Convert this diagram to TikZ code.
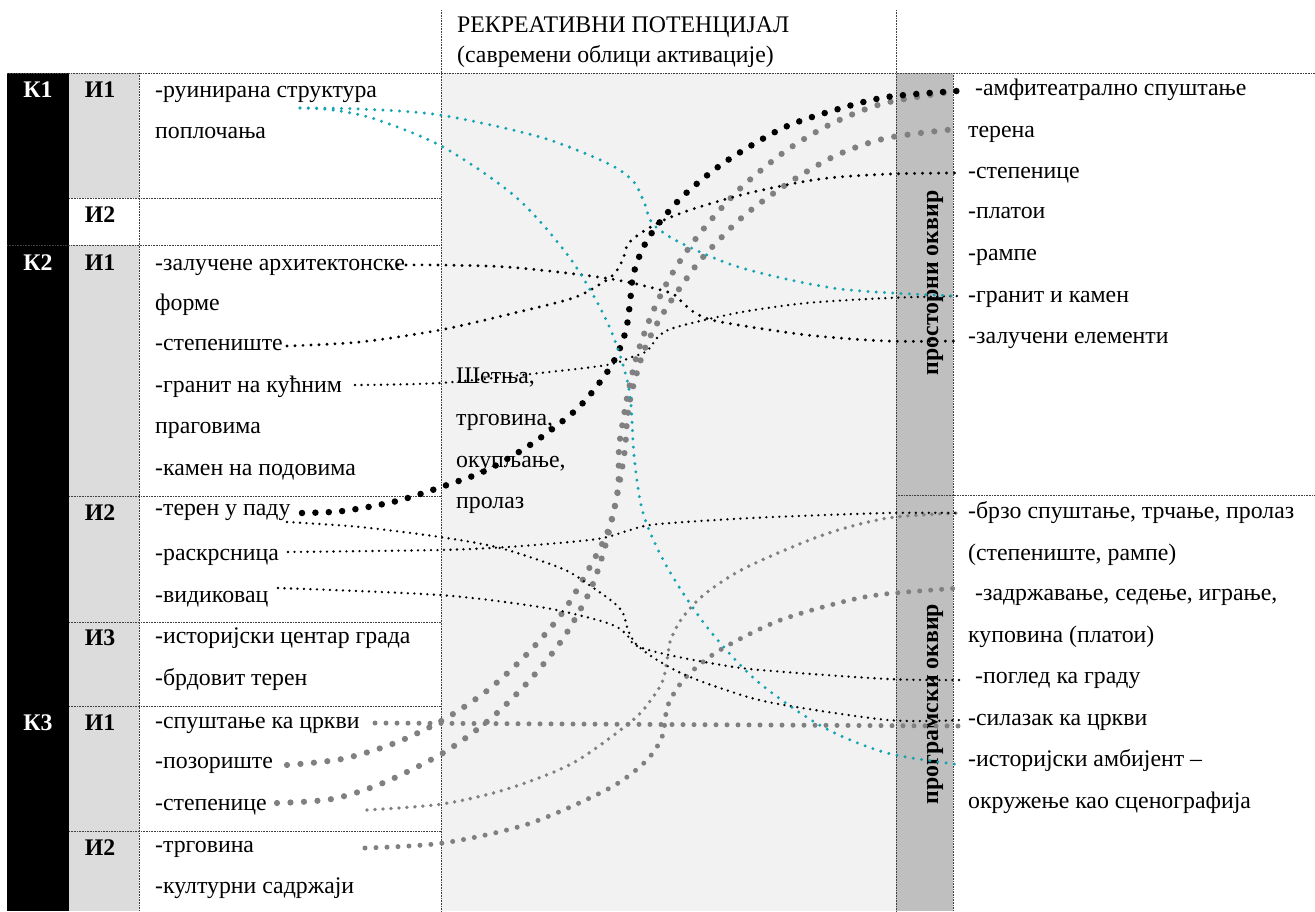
\documentclass[tikz,border=0pt]{standalone}
\usepackage{fontspec}
\setmainfont{Liberation Serif}
\definecolor{tealdot}{RGB}{18,164,176}
\definecolor{dotgray}{RGB}{128,128,128}
\definecolor{icol}{RGB}{220,220,220}
\definecolor{midcol}{RGB}{242,242,242}
\definecolor{barcol}{RGB}{191,191,191}
\begin{document}
\begin{tikzpicture}[x=1pt,y=-1pt,font=\fontsize{23.8}{28}\selectfont,
 txt/.style={anchor=base west,inner sep=0pt},
 klab/.style={anchor=base,inner sep=0pt,font=\fontsize{23.8}{28}\selectfont\bfseries},
 vlab/.style={klab,rotate=90},
 rule/.style={black!75,line width=.7pt,dash pattern=on .8pt off .8pt},
 dotline/.style={line cap=round,dash pattern=on 0pt off #1},
 tealline/.style={tealdot,line width=3.3pt,dotline=8.3pt},
 blackline/.style={black,line width=3.2pt,dotline=8pt},
 thinline/.style={black,line width=2.6pt,dotline=6.5pt},
 bigblack/.style={black,line width=6.5pt,dotline=13.4pt},
 biggray/.style={dotgray,line width=6.2pt,dotline=13.5pt},
 midgray/.style={dotgray,line width=5pt,dotline=11pt},
 smallgray/.style={dotgray,line width=3.8pt,dotline=8pt}]
\useasboundingbox (0,0) rectangle (1315,911);
% table background
\fill[black] (7,73) rectangle (69,911);
\fill[icol] (69,73) rectangle (139,911);
\fill[white] (69,198) rectangle (139,245);
\fill[midcol] (441,73) rectangle (896,911);
\fill[barcol] (896,73) rectangle (953,911);
\draw[rule] (7,73) -- (1315,73);
\draw[rule] (441,10) -- (441,911);
\draw[rule] (896,10) -- (896,911);
\draw[rule] (139,73) -- (139,911);
\draw[rule] (953,73) -- (953,911);
\draw[rule] (69,198) -- (441,198);
\draw[rule] (7,245) -- (441,245);
\foreach \y in {496,622,706,831}{\draw[rule] (69,\y) -- (441,\y);}
\draw[rule] (896,495) -- (1315,495);
% headings
\node[txt] (title) at (457,32) {РЕКРЕАТИВНИ ПОТЕНЦИЈАЛ};
\node[txt] (subtitle) at (457,62) {(савремени облици активације)};
\node[klab,text=white] (k1) at (38,97) {К1};
\node[klab,text=white] (k2) at (38,270) {К2};
\node[klab,text=white] (k3) at (38,730) {К3};
\foreach \n/\y/\lab in {11/97/И1,12/222/И2,21/270/И1,22/520/И2,23/645/И3,31/730/И1,32/855/И2}{
 \node[klab] (i\n) at (100,\y) {\lab};
}
\node[vlab] (frame1) at (938,283) {просторни оквир};
\node[vlab] (frame2) at (938,704) {програмски оквир};
% left column
\foreach \n/\y/\txt in {1/97/{-руинирана структура},2/138/поплочања,3/270/{-залучене архитектонске},
 4/310/форме,5/350/-степениште,6/392/{-гранит на кућним},7/433/праговима,8/475/{-камен на подовима},
 9/515/{-терен у паду},10/560/-раскрсница,11/602/-видиковац,12/643/{-историјски центар града},
 13/685/{-брдовит терен},14/728/{-спуштање ка цркви},15/768/-позориште,16/810/-степенице,
 17/852/-трговина,18/893/{-културни садржаји}}{
 \node[txt] (l\n) at (155,\y) {\txt};
}
% middle column
\foreach \n/\y/\txt in {1/383/{Шетња,},2/425/{трговина,},3/467/{окупљање,},4/508/пролаз}{
 \node[txt] (m\n) at (456,\y) {\txt};
}
% right column
\foreach \n/\x/\y/\txt in {1/975/95/{-амфитеатрално спуштање},2/968/137/терена,3/968/178/-степенице,
 4/968/218/-платои,5/968/260/-рампе,6/968/302/{-гранит и камен},7/968/343/{-залучени елементи},
 8/968/518/{-брзо спуштање, трчање, пролаз},9/968/560/{(степениште, рампе)},
 10/975/600/{-задржавање, седење, играње,},11/968/642/{куповина (платои)},12/975/683/{-поглед ка граду},
 13/968/725/{-силазак ка цркви},14/968/766/{-историјски амбијент –},15/968/808/{окружење као сценографија}}{
 \node[txt] (r\n) at (\x,\y) {\txt};
}
% connector ends
\coordinate (sRuin) at (300,108);
\coordinate (sZal) at (398,265);
\coordinate (sStep) at (287,346);
\coordinate (sGran) at (355,385);
\coordinate (sTerBig) at (302,513);
\coordinate (sTer) at (287,522);
\coordinate (sRask) at (288,552);
\coordinate (sVid) at (278,588);
\coordinate (sSpus) at (375,723);
\coordinate (sPoz) at (287,765);
\coordinate (sStepBig) at (277,803);
\coordinate (sStepSm) at (367,810);
\coordinate (sTrg) at (365,848);
\coordinate (eAmf) at ([xshift=-18pt,yshift=4pt]r1.base west);
\coordinate (eTer) at ([xshift=-12pt,yshift=8pt]r2.base west);
\coordinate (eStep) at ([xshift=-10pt,yshift=5pt]r3.base west);
\coordinate (eGran) at ([xshift=-10pt,yshift=6pt]r6.base west);
\coordinate (eZal) at ([xshift=-12pt,yshift=2pt]r7.base west);
\coordinate (eBrzo) at ([xshift=-8pt,yshift=5pt]r8.base west);
\coordinate (eZad) at ([xshift=-15pt,yshift=12pt]r10.base west);
\coordinate (ePog) at ([xshift=-15pt,yshift=3pt]r12.base west);
\coordinate (eSil) at ([xshift=-8pt,yshift=5pt]r13.base west);
\coordinate (eSilGray) at ([xshift=-10pt,yshift=-1pt]r13.base west);
\coordinate (eIst) at ([xshift=-6pt,yshift=1pt]r14.base west);
% gray links
\draw[biggray] plot[smooth] coordinates {(sPoz) (342,759) (395,743) (443,720) (488,690) (528,653) (563,612)
 (591,565) (609,528) (618,488) (619,448) (623,421) (628,393) (637,355) (651,316) (669,279) (691,245)
 (717,213) (745,184) (787,150) (833,123) (885,103) (eAmf)};
\draw[biggray] plot[smooth] coordinates {(sStepBig) (332,799) (383,783) (443,753) (489,720) (528,682)
 (562,640) (589,593) (603,554) (613,515) (620,480) (625,449) (627,422) (631,395) (642,356) (653,331)
 (667,307) (682,285) (698,263) (717,242) (746,214) (790,182) (837,155) (887,138) (eTer)};
\draw[midgray] (sSpus) -- (eSilGray);
\draw[smallgray] plot[smooth] coordinates {(sStepSm) (442,804) (507,789) (573,763) (633,720) (653,697)
 (663,680) (667,660) (671,639) (683,617) (706,593) (747,567) (823,535) (888,518) (eBrzo)};
\draw[midgray] plot[smooth] coordinates {(sTrg) (443,843) (528,824) (608,789) (645,762) (662,737)
 (668,705) (686,677) (720,650) (778,621) (842,602) (885,594) (eZad)};
% black links
\draw[bigblack] plot[smooth] coordinates {(sTerBig) (343,511) (397,501) (447,485) (487,470) (533,443)
 (577,409) (603,378) (617,355) (626,330) (630,303) (633,276) (642,250) (656,227) (683,196) (725,162)
 (783,128) (835,110) (887,97) (eAmf)};
\draw[blackline] plot[smooth] coordinates {(sZal) (440,265) (507,267) (575,274) (617,280) (649,287)
 (673,294) (684,304) (697,314) (721,322) (807,335) (887,341) (eZal)};
\draw[blackline] plot[smooth] coordinates {(sStep) (360,342) (440,330) (510,314) (573,298) (602,283)
 (615,273) (623,259) (628,244) (641,233) (662,221) (693,209) (749,193) (820,179) (890,174) (eStep)};
\draw[thinline] plot[smooth] coordinates {(sGran) (440,383) (540,373) (607,365) (632,357) (647,351)
 (657,338) (668,330) (692,323) (742,312) (807,303) (888,298) (eGran)};
\draw[thinline] plot[smooth] coordinates {(sTer) (360,527) (440,537) (500,548) (563,569) (592,587)
 (613,602) (623,613) (628,630) (636,644) (654,658) (683,674) (723,689) (773,703) (888,720) (eSil)};
\draw[thinline] plot[smooth] coordinates {(sRask) (440,550) (507,547) (570,542) (603,538) (627,531)
 (650,525) (700,521) (773,517) (888,513) (eBrzo)};
\draw[thinline] plot[smooth] coordinates {(sVid) (440,595) (540,607) (590,618) (615,626) (627,635)
 (635,645) (660,653) (710,663) (760,670) (888,679) (ePog)};
% teal links
\draw[tealline] plot[smooth] coordinates {(sRuin) (360,109) (440,115) (540,137) (607,163) (633,181)
 (644,202) (653,224) (681,243) (742,268) (840,289) (eGran)};
\draw[tealline] plot[smooth] coordinates {(sRuin) (333,110) (375,119) (443,147) (517,198) (572,261)
 (609,326) (629,389) (634,455) (643,513) (667,567) (707,627) (757,681) (823,727) (887,753) (eIst)};
\end{tikzpicture}
\end{document}
